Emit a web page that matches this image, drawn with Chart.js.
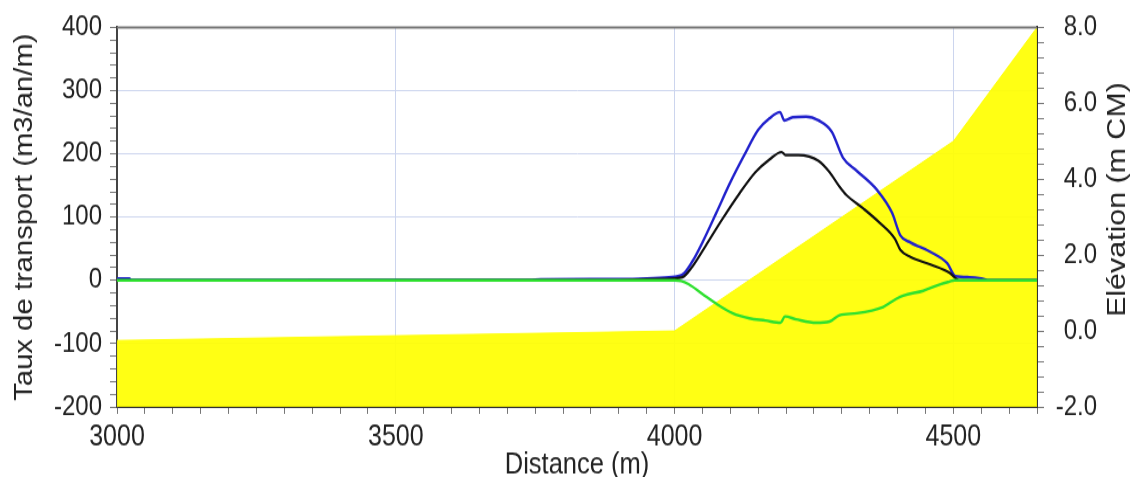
<!DOCTYPE html>
<html>
<head>
<meta charset="utf-8">
<script src="https://cdn.jsdelivr.net/npm/chart.js@4/dist/chart.umd.min.js"></script>
<style>
  html, body { margin: 0; padding: 0; background: #ffffff; }
  body { width: 1142px; height: 477px; overflow: hidden; }
  #wrap { width: 1142px; height: 408px; transform: scaleY(1.169118); transform-origin: 0 0; }
</style>
</head>
<body>
<div id="wrap"><canvas id="c" width="1142" height="408"></canvas></div>
<script>
// Profil d'élévation (m CM) le long du profil
const elevDist = [3000, 4000, 4500, 4650];
const elevVal  = [-0.25, 0.0, 5.0, 8.0];

// Transport positif (bleu), m3/an/m
const bleuDist = [3000, 3022, 3026, 3740, 3760, 3900, 3950, 3990, 4014, 4032, 4050, 4075, 4100, 4125, 4150, 4170, 4189, 4197, 4212, 4236, 4258, 4282, 4302, 4327, 4363, 4390, 4405, 4423, 4459, 4489, 4504, 4529, 4550, 4565, 4650];
const bleuVal  = [3, 3, 0.5, 0.5, 1.5, 2, 3, 5, 9, 30, 60, 107, 155, 198, 238, 256, 266, 253, 258, 259, 253, 235, 194, 173, 143, 107, 71, 60, 45, 27, 6.5, 5, 3, 0, 0];

// Transport net (noir)
const noirDist = [3000, 3900, 3980, 4014, 4032, 4056, 4085, 4116, 4145, 4170, 4192, 4199, 4222, 4258, 4278, 4296, 4308, 4338, 4368, 4395, 4405, 4423, 4459, 4493, 4502, 4510, 4650];
const noirVal  = [0, 0.5, 2, 5, 22, 55, 96, 137, 171, 191, 203, 198, 198, 189, 171, 148, 135, 114, 91, 66, 48, 37, 25, 12, 5, 0, 0];

// Transport négatif (vert)
const vertDist = [3000, 4000, 4012, 4025, 4050, 4075, 4104, 4134, 4163, 4190, 4198, 4218, 4254, 4278, 4296, 4327, 4374, 4398, 4410, 4446, 4477, 4493, 4502, 4650];
const vertVal  = [0, 0, -1, -6, -21.5, -37, -52, -60, -63.5, -67, -57, -61.5, -67, -65, -55, -52, -42, -29, -24, -16.5, -6, -2, 0, 0];

// Graduations
const xTicksMajor = [3000, 3500, 4000, 4500];
const yLeftMajor = [-200, -100, 0, 100, 200, 300, 400];
const yRightMajor = [-2, 0, 2, 4, 6, 8];

const pts = (xs, ys) => xs.map((x, i) => ({ x: x, y: ys[i] }));
const isIn = (list, v) => list.some(m => Math.abs(m - v) < 1e-6);

const FONT = "'Liberation Sans', Arial, Helvetica, sans-serif";
const TXT = '#222222';
const GRID = '#ccd5ee';

// Cadre supérieur et titre de l'axe droit (lu de bas en haut)
const frameAndRightTitle = {
  id: 'frameAndRightTitle',
  afterDraw(chart) {
    const { ctx, chartArea } = chart;
    ctx.save();
    ctx.strokeStyle = '#777777';
    ctx.lineWidth = 2;
    ctx.beginPath();
    ctx.moveTo(chartArea.left, chartArea.top);
    ctx.lineTo(chartArea.right, chartArea.top);
    ctx.stroke();

    const s = chart.scales.y2;
    ctx.fillStyle = TXT;
    ctx.font = "26px " + FONT;
    ctx.textAlign = 'center';
    ctx.textBaseline = 'middle';
    ctx.translate(s.right + 21, (chartArea.top + chartArea.bottom) / 2 - 15);
    ctx.rotate(-Math.PI / 2);
    ctx.fillText('Elévation (m CM)', 0, 0);
    ctx.restore();
  }
};

new Chart(document.getElementById('c'), {
  type: 'line',
  data: {
    datasets: [
      {
        label: 'Transport négatif',
        data: pts(vertDist, vertVal),
        yAxisID: 'y',
        borderColor: '#2ee02e',
        borderWidth: 2.4,
        cubicInterpolationMode: 'monotone',
        fill: false,
        order: 1
      },
      {
        label: 'Transport net',
        data: pts(noirDist, noirVal),
        yAxisID: 'y',
        borderColor: '#111111',
        borderWidth: 2.2,
        cubicInterpolationMode: 'monotone',
        fill: false,
        order: 2
      },
      {
        label: 'Transport positif',
        data: pts(bleuDist, bleuVal),
        yAxisID: 'y',
        borderColor: '#2222cc',
        borderWidth: 2.4,
        cubicInterpolationMode: 'monotone',
        fill: false,
        order: 3
      },
      {
        label: 'Elévation',
        data: pts(elevDist, elevVal),
        yAxisID: 'y2',
        borderColor: 'rgba(255,255,0,0.92)',
        backgroundColor: 'rgba(255,255,0,0.92)',
        borderWidth: 1,
        tension: 0,
        fill: 'start',
        order: 10
      }
    ]
  },
  options: {
    responsive: false,
    animation: false,
    layout: { padding: { top: 15, left: 0, right: 45, bottom: 0 } },
    elements: { point: { radius: 0 } },
    plugins: { legend: { display: false }, tooltip: { enabled: false } },
    scales: {
      x: {
        type: 'linear',
        position: 'bottom',
        min: 3000,
        max: 4650,
        afterFit: s => { s.height = 60; },
        ticks: {
          stepSize: 50,
          autoSkip: false,
          maxRotation: 0,
          padding: 5,
          color: TXT,
          font: { family: FONT, size: 25 },
          callback: v => (isIn(xTicksMajor, v) ? String(v) : '')
        },
        grid: {
          color: c => (c.tick && isIn(xTicksMajor, c.tick.value) ? GRID : 'rgba(0,0,0,0)'),
          lineWidth: 1,
          tickLength: 6,
          tickColor: '#777777'
        },
        border: { color: '#333333', width: 2 },
        title: {
          display: true,
          text: 'Distance (m)',
          color: TXT,
          font: { family: FONT, size: 25.5, lineHeight: 0.8 },
          padding: { top: 0, bottom: 0 }
        }
      },
      y: {
        position: 'left',
        min: -200,
        max: 400,
        afterFit: s => { s.width = 117; },
        ticks: {
          stepSize: 20,
          autoSkip: false,
          padding: 8,
          color: TXT,
          font: { family: FONT, size: 24 },
          callback: v => (isIn(yLeftMajor, v) ? String(v) : '')
        },
        grid: {
          color: c => (c.tick && isIn(yLeftMajor, c.tick.value) ? GRID : 'rgba(0,0,0,0)'),
          lineWidth: 1,
          tickLength: 7,
          tickColor: '#777777'
        },
        border: { color: '#444444', width: 2 },
        title: {
          display: true,
          text: 'Taux de transport (m3/an/m)',
          color: TXT,
          font: { family: FONT, size: 25 },
          padding: { top: 10, bottom: 0 }
        }
      },
      y2: {
        position: 'right',
        min: -2,
        max: 8,
        afterFit: s => { s.width = 60; },
        ticks: {
          stepSize: 0.4,
          autoSkip: false,
          padding: 9,
          crossAlign: 'far',
          color: TXT,
          font: { family: FONT, size: 24 },
          callback: v => (isIn(yRightMajor, v) ? Number(v).toFixed(1) : '')
        },
        grid: {
          drawOnChartArea: false,
          tickLength: 7,
          tickColor: '#777777'
        },
        border: { color: '#333333', width: 2 }
      }
    }
  },
  plugins: [frameAndRightTitle]
});
</script>
</body>
</html>
